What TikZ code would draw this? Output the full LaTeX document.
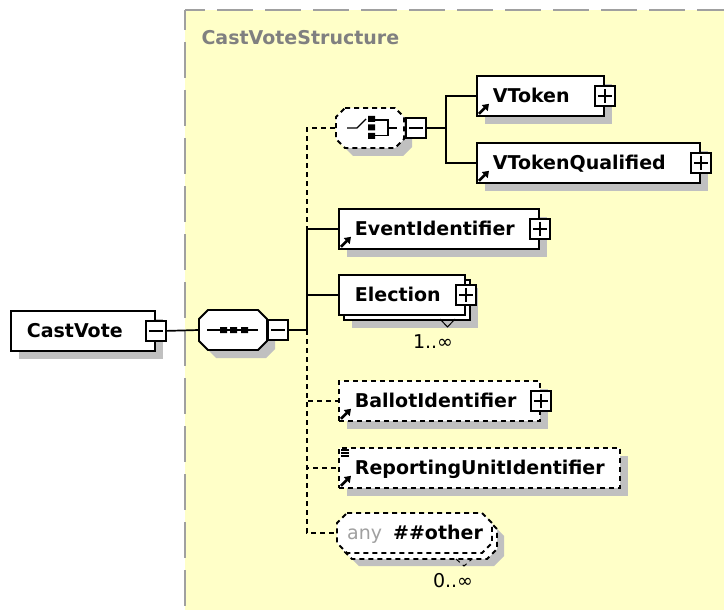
\documentclass[tikz,border=0pt]{standalone}
\usepackage{fontspec}
\setmainfont{DejaVu Sans}
\usetikzlibrary{calc,shadows,arrows.meta}
\definecolor{bgyellow}{HTML}{FFFFC8}
\definecolor{shadowgray}{HTML}{C0C0C0}
\definecolor{bordergray}{HTML}{A0A0A0}
\definecolor{titlegray}{HTML}{808080}
\definecolor{anygray}{HTML}{A0A0A0}
\newcommand\octagonpath[6]{\path[#1] (#2+#6,#3) -- (#4-#6,#3) -- (#4,#3+#6) -- (#4,#5-#6) -- (#4-#6,#5) -- (#2+#6,#5) -- (#2,#5-#6) -- (#2,#3+#6) -- cycle;}
\tikzset{
  txtfont/.style={font=\fontsize{19bp}{22bp}\selectfont},
  boldfont/.style={font=\fontsize{19bp}{22bp}\selectfont\bfseries},
  elem/.style={draw, line width=1.8bp, fill=white, minimum height=40bp, inner xsep=16bp, inner ysep=0pt,
    align=left, anchor=north west, text height=13.9bp, text depth=0pt, boldfont},
  shad/.style={drop shadow={shadow xshift=8bp, shadow yshift=-8bp, fill=shadowgray, opacity=1}},
  opt/.style={dash pattern=on 5bp off 4bp},
  pmbox/.style={draw, line width=1.6bp, fill=white, minimum size=20bp, inner sep=0pt},
  pbox/.style={pmbox, path picture={\draw[line width=1.4bp]
      ([xshift=3bp]path picture bounding box.west) -- ([xshift=-3bp]path picture bounding box.east)
      ([yshift=-3bp]path picture bounding box.north) -- ([yshift=3bp]path picture bounding box.south);}},
  mbox/.style={pmbox, path picture={\draw[line width=1.4bp]
      ([xshift=3bp]path picture bounding box.west) -- ([xshift=-3bp]path picture bounding box.east);}},
  conn/.style={line width=1.7bp},
  refarrow/.style={line width=2.6bp, -{Triangle[length=6bp,width=8bp]}},
  compo/.style={rectangle, minimum width=68bp, minimum height=40bp, inner sep=0pt},
}
\begin{document}
\begin{tikzpicture}[x=1bp,y=-1bp]
\useasboundingbox (0,0) rectangle (724,610);
\clip (0,0) rectangle (724,610);
\fill[white] (0,0) rectangle (724,610);
% complex type area
\fill[bgyellow] (185,10) rectangle (740,630);
\draw[bordergray, line width=2.5bp, dash pattern=on 36bp off 12bp, dash phase=16bp] (185,10) -- (740,10);
\draw[bordergray, line width=2.5bp, dash pattern=on 36bp off 12bp, dash phase=16bp] (185,10) -- (185,640);
\node[anchor=base west, text=titlegray, boldfont] (title) at (198,45) {CastVoteStructure};

% root element
\node[elem, shad, minimum width=144bp, text width=112bp] (castvote) at (10,310) {CastVote};
\node[mbox] (cvminus) at (castvote.east) {};

% sequence compositor
\octagonpath{fill=shadowgray, shift={(8,8)}}{199}{310}{267}{350}{9}
\octagonpath{draw, fill=white, line width=1.8bp}{199}{310}{267}{350}{9}
\node[compo] (seq) at (233,330) {};
\draw[line width=1.4bp] (207,330) -- (258,330);
\fill (220,327) rectangle (227,333) (230,327) rectangle (237,333) (241,327) rectangle (248,333);
\node[mbox] (seqminus) at (278,330) {};

% choice compositor
\octagonpath{fill=shadowgray, shift={(8,8)}}{336}{108}{404}{148}{9}
\octagonpath{draw, fill=white, line width=1.8bp, opt}{336}{108}{404}{148}{9}
\node[compo] (choice) at (370,128) {};
\draw[line width=1.4bp] (347,128) -- (357,128) -- (366,119);
\fill (368,116) rectangle (375,122) (368,124.5) rectangle (375,130.5) (368,133) rectangle (375,139);
\draw[line width=1.4bp] (375,120) -- (388,120) -- (388,135.5) -- (375,135.5) (388,128) -- (397,128);
\node[mbox] (chminus) at (416,128) {};

% choice children
\node[elem, shad, minimum width=127bp, text width=95bp] (vtok) at (476,75) {VToken};
\node[pbox] (vtokplus) at (vtok.east) {};
\node[elem, shad, minimum width=223bp, text width=191bp] (vtq) at (476,142) {VTokenQualified};
\node[pbox] (vtqplus) at (vtq.east) {};

% sequence children
\node[elem, shad, minimum width=200bp, text width=168bp] (evt) at (338,208) {EventIdentifier};
\node[pbox] (evtplus) at (evt.east) {};

\node[elem, shad, minimum width=126bp] (elecb) at (343,279) {};
\node[elem, minimum width=126bp, text width=94bp] (elec) at (338,274) {Election};
\node[pbox] (elecplus) at (elec.east) {};
\draw[line width=1bp] (440,319) -- (447.5,327) -- (455,319);
\node[anchor=base, txtfont] (m1) at (433,348) {1..∞};

\node[elem, shad, opt, minimum width=201bp, text width=169bp] (ballot) at (338,380) {BallotIdentifier};
\node[pbox] (ballotplus) at (ballot.east) {};

\node[elem, shad, opt, minimum width=281bp, text width=249bp] (rep) at (338,447) {ReportingUnitIdentifier};
\draw[line width=1.1bp] ([shift={(3,3)}]rep.north west) -- ++(8,0)
  ([shift={(3,6)}]rep.north west) -- ++(8,0)
  ([shift={(3,9)}]rep.north west) -- ++(8,0);

% any wildcard
\octagonpath{fill=shadowgray, shift={(12,13)}}{337}{513}{492}{553}{10}
\octagonpath{draw, fill=white, line width=1.8bp, opt, shift={(5,6)}}{337}{513}{492}{553}{10}
\octagonpath{draw, fill=white, line width=1.8bp, opt}{337}{513}{492}{553}{10}
\node[anchor=west, minimum height=40bp, inner xsep=10bp, inner ysep=0pt, text height=13.9bp, text depth=0pt, txtfont] (any) at (337,533)
  {\textcolor{anygray}{any}\hspace{11bp}\textbf{\#\#other}};
\draw[line width=1bp, opt] (456,559) -- (464,566) -- (472,559);
\node[anchor=base, txtfont] (m2) at (453,587) {0..∞};

% reference arrows
\foreach \n in {vtok,vtq,evt,ballot,rep}{
  \draw[refarrow] ([shift={(3,-3)}]\n.south west) -- ([shift={(13,-13)}]\n.south west);
}

% connectors
\coordinate (sb) at (307,330);
\coordinate (cb) at (446,128);
\draw[conn, opt] (sb) |- (choice.west);
\draw[conn, opt] (sb) |- (ballot.west);
\draw[conn, opt] (sb) |- (rep.west);
\draw[conn, opt] (sb) |- (any.west);
\draw[conn] (cvminus.east) -- (seq.west);
\draw[conn] (seqminus.east) -- (sb);
\draw[conn] (sb) |- (evt.west);
\draw[conn] (sb) |- (elec.west);
\draw[conn] (chminus.east) -- (cb);
\draw[conn] (cb) |- (vtok.west);
\draw[conn] (cb) |- (vtq.west);
\end{tikzpicture}
\end{document}
